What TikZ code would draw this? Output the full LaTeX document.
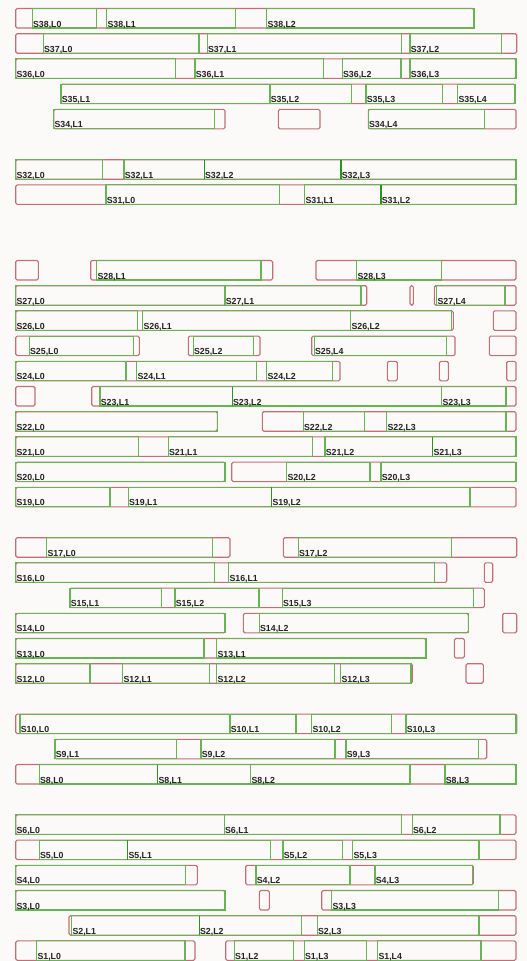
\documentclass[tikz,border=0pt]{standalone}
\usepackage{fontspec}
\setmainfont{Liberation Sans}
\definecolor{gline}{RGB}{104,180,84}
\definecolor{gdark}{RGB}{40,150,30}
\definecolor{rline}{RGB}{192,112,116}
\definecolor{labc}{RGB}{35,35,35}
\definecolor{bgc}{RGB}{252,250,249}
\tikzset{
  redbox/.style={draw=rline,line width=1.1pt,rounded corners=1.5pt},
  greenbox/.style={draw=gline,line width=1.1pt},
  sepline/.style={draw=gdark,line width=1.5pt},
  lab/.style={anchor=base west,inner sep=0pt,text=labc,font=\fontsize{8.8}{9}\selectfont\bfseries}
}
\newcommand{\RB}[3]{\pgfmathsetmacro\tp{8.5+25.2*(38-#1)}\draw[redbox] (#2,\tp) rectangle (#3,\tp+19.5);}
\newcommand{\GB}[4]{\pgfmathsetmacro\tp{8.5+25.2*(38-#1)}\draw[greenbox] (#2,\tp) rectangle (#3,\tp+19.5);
  \node[lab] (s#1l#4) at (#2+0.6,\tp+18.6) {S#1,L#4};}
\newcommand{\SP}[2]{\pgfmathsetmacro\tp{8.5+25.2*(38-#1)}\draw[sepline] (#2,\tp) -- (#2,\tp+19.5);}
\begin{document}
\begin{tikzpicture}[x=1pt,y=-1pt]
\fill[bgc] (0,0) rectangle (527,961);
\useasboundingbox (0,0) rectangle (527,961);
% S38
\RB{38}{15.7}{474}
\GB{38}{32.3}{96.7}{0}\GB{38}{106.7}{235.7}{1}\GB{38}{266.7}{474}{2}
% S37
\RB{37}{15.7}{516.7}
\GB{37}{43.3}{199}{0}\GB{37}{207.3}{401.7}{1}\GB{37}{410}{501.7}{2}
% S36
\RB{36}{15.7}{516}
\GB{36}{15.7}{175.7}{0}\GB{36}{195}{323.3}{1}\GB{36}{342.3}{401}{2}\GB{36}{410}{516}{3}
% S35
\RB{35}{61}{515}
\GB{35}{61}{270}{1}\GB{35}{270}{351.7}{2}\GB{35}{366}{442.7}{3}\GB{35}{457.7}{515}{4}
% S34
\RB{34}{53.7}{225}\RB{34}{278.3}{320}\RB{34}{368.3}{516}
\GB{34}{53.7}{214.3}{1}\GB{34}{368.3}{484.3}{4}
% S32
\RB{32}{15.7}{516}
\GB{32}{15.7}{102.3}{0}\GB{32}{124}{204.3}{1}\GB{32}{204.3}{341}{2}\GB{32}{341}{516}{3}
\SP{32}{204.3}\SP{32}{341}
% S31
\RB{31}{15.7}{516}
\GB{31}{106}{279.3}{0}\GB{31}{304.7}{381}{1}\GB{31}{381}{516}{2}
\SP{31}{381}
% S28
\RB{28}{15.7}{38.3}\RB{28}{90.7}{272.7}\RB{28}{316}{516}
\GB{28}{96.7}{261}{1}\GB{28}{356.7}{441.7}{3}
% S27
\RB{27}{15.7}{366.7}\RB{27}{410}{413.3}\RB{27}{434.3}{516}
\GB{27}{15.7}{225}{0}\GB{27}{225}{361}{1}\GB{27}{436.7}{505}{4}
% S26
\RB{26}{15.7}{453.3}\RB{26}{493.3}{516}
\GB{26}{15.7}{137.7}{0}\GB{26}{142.7}{350.7}{1}\GB{26}{350.7}{451.7}{2}
% S25
\RB{25}{15.7}{139.3}\RB{25}{188.3}{260}\RB{25}{311.7}{455}\RB{25}{489.3}{516}
\GB{25}{29.3}{133.3}{0}\GB{25}{193.3}{253.3}{2}\GB{25}{314.3}{446.7}{4}
% S24
\RB{24}{15.7}{340}\RB{24}{387.3}{397.3}\RB{24}{439.3}{448.3}\RB{24}{506.7}{516}
\GB{24}{15.7}{126}{0}\GB{24}{136.7}{256.7}{1}\GB{24}{266.7}{332.3}{2}
% S23
\RB{23}{15.7}{35}\RB{23}{91.7}{516}
\GB{23}{100}{232.3}{1}\GB{23}{232.3}{441.7}{2}\GB{23}{441.7}{506}{3}
\SP{23}{232.3}
% S22
\RB{22}{15.7}{217.3}\RB{22}{262.3}{516}
\GB{22}{15.7}{217.3}{0}\GB{22}{303.3}{364.3}{2}\GB{22}{386.7}{506}{3}
% S21
\RB{21}{15.7}{516}
\GB{21}{15.7}{138.3}{0}\GB{21}{168.3}{312.3}{1}\GB{21}{325}{432.7}{2}\GB{21}{432.7}{516}{3}
\SP{21}{432.7}
% S20
\RB{20}{15.7}{225}\RB{20}{231.7}{516}
\GB{20}{15.7}{225}{0}\GB{20}{286.7}{370}{2}\GB{20}{381}{516}{3}
% S19
\RB{19}{15.7}{516}
\GB{19}{15.7}{110}{0}\GB{19}{128.3}{271.7}{1}\GB{19}{271.7}{470}{2}
\SP{19}{271.7}
% S17
\RB{17}{15.7}{230}\RB{17}{283.3}{516.7}
\GB{17}{46.7}{212.3}{0}\GB{17}{298.3}{451.7}{2}
% S16
\RB{16}{15.7}{446.7}\RB{16}{484.3}{492.7}
\GB{16}{15.7}{214.3}{0}\GB{16}{228.7}{434.3}{1}
% S15
\RB{15}{70}{484.3}
\GB{15}{70}{161.7}{1}\GB{15}{175}{259}{2}\GB{15}{282.3}{473.3}{3}
% S14
\RB{14}{15.7}{225}\RB{14}{243.3}{468.3}\RB{14}{502.7}{516.7}
\GB{14}{15.7}{225}{0}\GB{14}{259.3}{468.3}{2}
% S13
\RB{13}{15.7}{426}\RB{13}{454.3}{464.3}
\GB{13}{15.7}{204}{0}\GB{13}{216.7}{426}{1}
% S12
\RB{12}{15.7}{412.3}\RB{12}{466}{483.3}
\GB{12}{15.7}{90}{0}\GB{12}{122.7}{209.3}{1}\GB{12}{216.7}{334.3}{2}\GB{12}{340.7}{411}{3}
% S10
\RB{10}{15.7}{516.7}
\GB{10}{20}{230}{0}\GB{10}{230}{296}{1}\GB{10}{311.7}{391.7}{2}\GB{10}{406}{516}{3}
% S9
\RB{9}{55}{486.7}
\GB{9}{55}{176.7}{1}\GB{9}{201}{335}{2}\GB{9}{346}{478.3}{3}
% S8
\RB{8}{15.7}{516}
\GB{8}{39.3}{157.7}{0}\GB{8}{157.7}{250.7}{1}\GB{8}{250.7}{410}{2}\GB{8}{445}{516}{3}
\SP{8}{157.7}
% S6
\RB{6}{15.7}{516}
\GB{6}{15.7}{224.3}{0}\GB{6}{224.3}{401.7}{1}\GB{6}{412.3}{500}{2}
% S5
\RB{5}{15.7}{516}
\GB{5}{39.3}{127.7}{0}\GB{5}{127.7}{270.7}{1}\GB{5}{283}{342.3}{2}\GB{5}{352.7}{479}{3}
\SP{5}{127.7}
% S4
\RB{4}{15.7}{197.3}\RB{4}{245.7}{473.3}
\GB{4}{15.7}{185.7}{0}\GB{4}{256}{350}{2}\GB{4}{375}{472.7}{3}
% S3
\RB{3}{15.7}{225}\RB{3}{259.3}{269.3}\RB{3}{321.7}{516}
\GB{3}{15.7}{225}{0}\GB{3}{331.7}{498.3}{3}
% S2
\RB{2}{69}{516}
\GB{2}{71.7}{199.3}{1}\GB{2}{199.3}{301.7}{2}\GB{2}{317.3}{479}{3}
\SP{2}{199.3}
% S1
\RB{1}{15.7}{195}\RB{1}{225.7}{516}
\GB{1}{36.7}{185}{0}\GB{1}{234.3}{293.3}{2}\GB{1}{304.3}{366.7}{3}\GB{1}{377.7}{481}{4}
\end{tikzpicture}
\end{document}
